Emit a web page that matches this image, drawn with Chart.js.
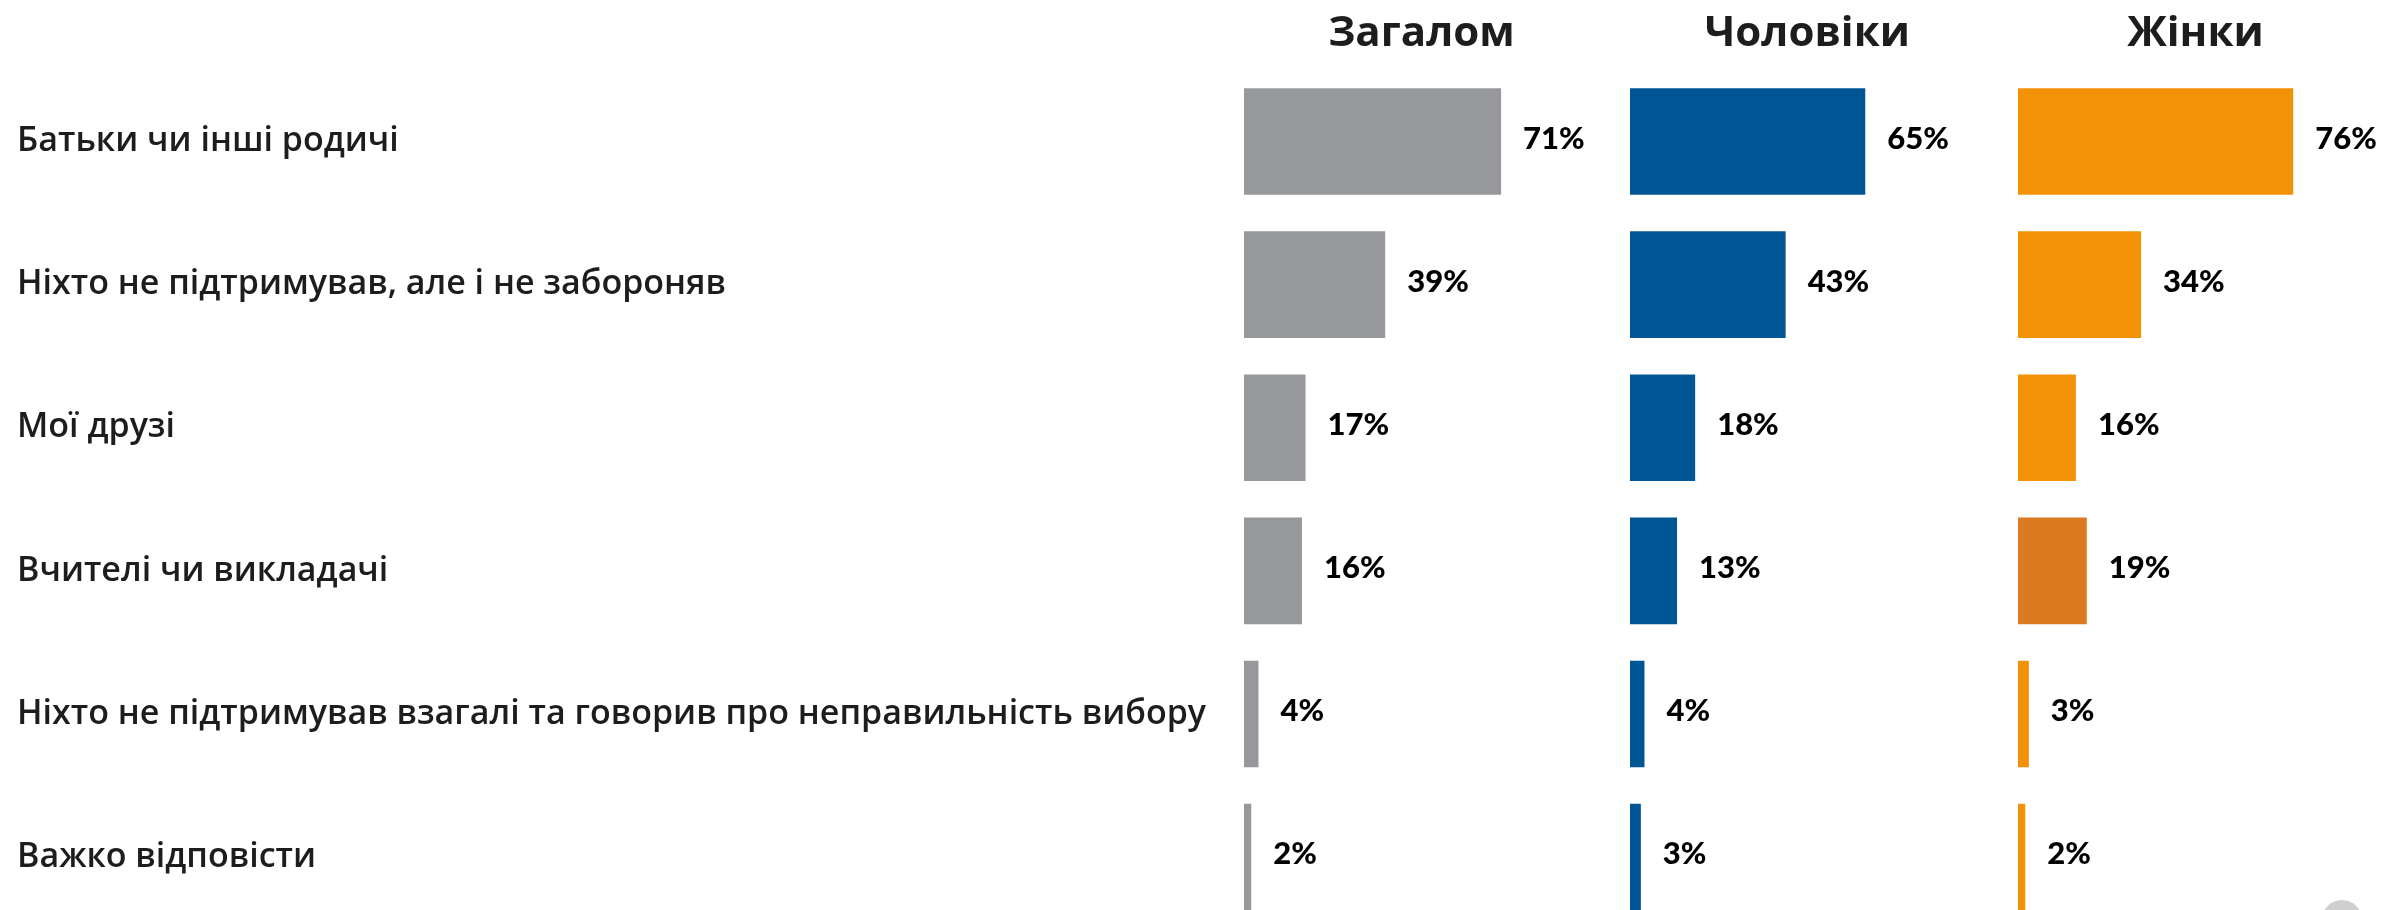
<!DOCTYPE html>
<html lang="uk">
<head>
<meta charset="utf-8">
<title>Хто підтримував вибір</title>
<script src="https://cdn.jsdelivr.net/npm/chart.js@4.4.1/dist/chart.umd.min.js"></script>
<style>
    html, body { margin: 0; padding: 0; background: #fff; overflow: hidden; }
    #frame { position: relative; width: 2387px; height: 910px; overflow: hidden; }
    #box { position: absolute; left: 0; top: 0; width: 2387px; height: 952px; }
    #dot { position: absolute; left: 2322px; top: 900px; width: 40px; height: 40px; border-radius: 50%; background: #cfcfcf; }
</style>
</head>
<body>
<div id="frame">
    <div id="box"><canvas id="supportChart"></canvas></div>
    <div id="dot"></div>
</div>
<script>
const categories = [
    "Батьки чи інші родичі",
    "Ніхто не підтримував, але і не забороняв",
    "Мої друзі",
    "Вчителі чи викладачі",
    "Ніхто не підтримував взагалі та говорив про неправильність вибору",
    "Важко відповісти"
];
const groups = ["Загалом", "Чоловіки", "Жінки"];
const overall = [71, 39, 17, 16, 4, 2];
const men = [65, 43, 18, 13, 4, 3];
const women = [76, 34, 16, 19, 3, 2];

const GREY = '#97989c';
const BLUE = '#005694';
const ORANGE = '#f39206';
const DARK_ORANGE = '#dc7a22';

// column headers, drawn over each x scale
const headerPlugin = {
    id: 'headers',
    afterDraw(chart) {
        const c = chart.ctx;
        c.save();
        c.font = 'bold 42px "Open Sans", Lato, sans-serif';
        c.fillStyle = '#1d1d1b';
        c.textAlign = 'center';
        c.textBaseline = 'alphabetic';
        ['x0', 'x1', 'x2'].forEach(function (id, i) {
            const scale = chart.scales[id];
            c.fillText(groups[i], scale.getPixelForValue(49), 46);
        });
        c.restore();
    }
};

// percentage labels to the right of each bar
const valuePlugin = {
    id: 'values',
    afterDatasetsDraw(chart) {
        const c = chart.ctx;
        c.save();
        c.font = '900 31px Lato, "Open Sans", sans-serif';
        c.fillStyle = '#000';
        c.textAlign = 'left';
        c.textBaseline = 'middle';
        chart.data.datasets.forEach(function (ds, i) {
            chart.getDatasetMeta(i).data.forEach(function (bar, j) {
                c.fillText(ds.data[j] + '%', bar.x + 22, bar.y - 3);
            });
        });
        c.restore();
    }
};

document.addEventListener('DOMContentLoaded', function () {
    const ctx = document.getElementById("supportChart");
    if (!ctx) return;

    const womenColors = women.map(function (v, i) { return i === 3 ? DARK_ORANGE : ORANGE; });

    const xAxis = function (weight, max) {
        return {
            type: 'linear',
            position: 'top',
            stack: 'cols',
            stackWeight: weight,
            min: 0,
            max: max,
            display: false,
            grid: { display: false }
        };
    };

    new Chart(ctx, {
        type: 'bar',
        data: {
            labels: categories,
            datasets: [
                { label: groups[0], data: overall, xAxisID: 'x0', backgroundColor: GREY },
                { label: groups[1], data: men, xAxisID: 'x1', backgroundColor: BLUE },
                { label: groups[2], data: women, xAxisID: 'x2', backgroundColor: womenColors }
            ]
        },
        options: {
            indexAxis: 'y',
            responsive: true,
            maintainAspectRatio: false,
            animation: false,
            layout: { padding: { top: 70, left: 17, right: 0, bottom: 0 } },
            datasets: {
                bar: {
                    grouped: false,
                    barPercentage: 0.745,
                    categoryPercentage: 1,
                    borderWidth: 0
                }
            },
            scales: {
                y: {
                    position: 'left',
                    grid: { display: false },
                    border: { display: false },
                    afterFit: function (scale) { scale.width = 1227; },
                    ticks: {
                        crossAlign: 'far',
                        color: '#1d1d1b',
                        font: { family: '"Open Sans", Lato, sans-serif', size: 34, weight: 600 }
                    }
                },
                // top axes are laid out in reverse, so the last column comes first here
                x2: xAxis(369, 101.9),
                x1: xAxis(388, 107.2),
                x0: xAxis(386, 106.6)
            },
            plugins: {
                legend: { display: false },
                tooltip: { enabled: false },
                title: { display: false }
            }
        },
        plugins: [headerPlugin, valuePlugin]
    });
});
</script>
</body>
</html>
